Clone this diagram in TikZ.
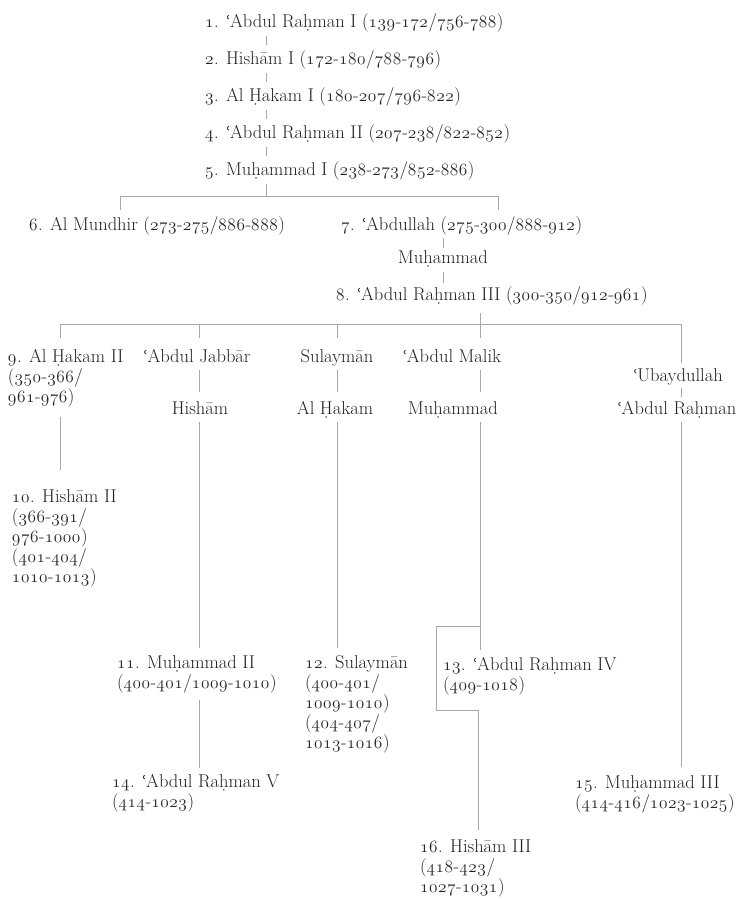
\documentclass[tikz,border=0pt]{standalone}
\usepackage{fontspec}
\newfontfamily\dvs[Scale=0.85]{DejaVu Serif}
\newcommand\ayn{{\dvs ʿ}\kern-0.8pt}
\newcommand\sth{\rule[-4.5pt]{0pt}{17.5pt}}
\makeatletter
\def\osn#1{\osn@loop#1\@nil}
\def\osn@loop#1{\ifx#1\@nil\else\osn@char#1\expandafter\osn@loop\fi}
\def\osn@char#1{\ifnum`#1>47 \ifnum`#1<58 {\usefont{OML}{cmm}{m}{it}#1}\kern0.6pt\else #1\fi\else #1\fi}
\makeatother
\definecolor{txt}{HTML}{222222}
\definecolor{ln}{HTML}{A8A8A8}
\begin{document}
\begin{tikzpicture}[x=1pt,y=-1pt,
  lbl/.style={inner sep=0pt, outer sep=0pt, text=txt, font=\fontsize{18.5}{20}\selectfont, align=left, anchor=north west},
  clbl/.style={lbl, anchor=north, align=center},
  link/.style={draw=ln, line width=0.8pt}]
\useasboundingbox (0,0) rectangle (741,899);
% nodes
\node[lbl] (n1) at (205,14) {\sth\osn{1.} \ayn Abdul Raḥman I \osn{(139-172/756-788)}};
\node[lbl] (n2) at (205,51) {\sth\osn{2.} Hishām I \osn{(172-180/788-796)}};
\node[lbl] (n3) at (205,88) {\sth\osn{3.} Al Ḥakam I \osn{(180-207/796-822)}};
\node[lbl] (n4) at (205,125) {\sth\osn{4.} \ayn Abdul Raḥman II \osn{(207-238/822-852)}};
\node[lbl] (n5) at (205,162) {\sth\osn{5.} Muḥammad I \osn{(238-273/852-886)}};
\node[lbl] (n6) at (29,217) {\sth\osn{6.} Al Mundhir \osn{(273-275/886-888)}};
\node[lbl] (n7) at (341,217) {\sth\osn{7.} \ayn Abdullah \osn{(275-300/888-912)}};
\node[clbl] (m7) at (443,250) {\sth Muḥammad};
\node[lbl] (n8) at (336,287) {\sth\osn{8.} \ayn Abdul Raḥman III \osn{(300-350/912-961)}};
\node[lbl] (n9) at (8,349) {\sth\osn{9.} Al Ḥakam II\\\osn{(350-366/}\\\osn{961-976)}};
\node[clbl] (jab) at (197,349) {\sth\ayn Abdul Jabbār};
\node[clbl] (sul) at (337,349) {\sth Sulaymān};
\node[clbl] (mal) at (452,349) {\sth\ayn Abdul Malik};
\node[clbl] (uba) at (678,368) {\sth\ayn Ubaydullah};
\node[clbl] (his) at (200,401) {\sth Hishām};
\node[clbl] (hak) at (335,401) {\sth Al Ḥakam};
\node[clbl] (muh) at (453,401) {\sth Muḥammad};
\node[clbl] (abr) at (677,401) {\sth\ayn Abdul Raḥman};
\node[lbl] (n10) at (12,489) {\sth\osn{10.} Hishām II\\\osn{(366-391/}\\\osn{976-1000)}\\\osn{(401-404/}\\\osn{1010-1013)}};
\node[lbl] (n11) at (117,655) {\sth\osn{11.} Muḥammad II\\\osn{(400-401/1009-1010)}};
\node[lbl] (n12) at (305,655) {\sth\osn{12.} Sulaymān\\\osn{(400-401/}\\\osn{1009-1010)}\\\osn{(404-407/}\\\osn{1013-1016)}};
\node[lbl] (n13) at (443,657) {\sth\osn{13.} \ayn Abdul Raḥman IV\\\osn{(409-1018)}};
\node[lbl] (n14) at (112,774) {\sth\osn{14.} \ayn Abdul Raḥman V\\\osn{(414-1023)}};
\node[lbl] (n15) at (575,775) {\sth\osn{15.} Muḥammad III\\\osn{(414-416/1023-1025)}};
\node[lbl] (n16) at (420,839) {\sth\osn{16.} Hishām III\\\osn{(418-423/}\\\osn{1027-1031)}};
% coordinates
\coordinate (ct) at (266,0);
\coordinate (b1) at (266,196);
\coordinate (b1l) at (120,196);
\coordinate (b1r) at (498,196);
\coordinate (b2a) at (60,324);
\coordinate (b2b) at (199,324);
\coordinate (b2c) at (337,324);
\coordinate (b2d) at (480,324);
\coordinate (b2e) at (681,324);
\coordinate (s1) at (480,626);
\coordinate (s2) at (436,626);
\coordinate (s3) at (436,710);
\coordinate (s4) at (478,710);
% connectors
\foreach \a/\b in {n1/n2,n2/n3,n3/n4,n4/n5}
  \draw[link, shorten <=3.5pt, shorten >=6pt] (\a.south -| ct) -- (\b.north -| ct);
\draw[link, shorten <=3.5pt] (n5.south -| ct) -- (b1);
\draw[link, shorten <=7pt, shorten >=7pt] (n6.north -| b1l) -- (b1l) -- (b1r) -- (n7.north -| b1r);
\draw[link, shorten <=2.5pt, shorten >=2pt] (n7.south -| m7) -- (m7.north);
\draw[link, shorten <=4.5pt, shorten >=4pt] (m7.south) -- (n8.north -| m7);
\draw[link, shorten <=7.5pt] (n8.south -| b2d) -- (b2d);
\draw[link, shorten <=11pt, shorten >=5pt] (n9.north -| b2a) -- (b2a) -- (b2e) -- (uba.north -| b2e);
\draw[link, shorten >=11pt] (b2b) -- (jab.north -| b2b);
\draw[link, shorten >=11pt] (b2c) -- (sul.north -| b2c);
\draw[link, shorten >=11pt] (b2d) -- (mal.north -| b2d);
\draw[link, shorten <=3.5pt, shorten >=9pt] (jab.south -| b2b) -- (his.north -| b2b);
\draw[link, shorten <=3.5pt, shorten >=9pt] (sul.south -| b2c) -- (hak.north -| b2c);
\draw[link, shorten <=3.5pt, shorten >=9pt] (mal.south -| b2d) -- (muh.north -| b2d);
\draw[link, shorten <=2.5pt, shorten >=4pt] (uba.south -| b2e) -- (abr.north -| b2e);
\draw[link, shorten <=3pt, shorten >=7pt] (his.south -| b2b) -- (n11.north -| b2b);
\draw[link, shorten <=3pt, shorten >=7pt] (hak.south -| b2c) -- (n12.north -| b2c);
\draw[link, shorten <=3pt, shorten >=7pt] (muh.south -| b2d) -- (n13.north -| b2d);
\draw[link, shorten <=3pt, shorten >=8pt] (abr.south -| b2e) -- (n15.north -| b2e);
\draw[link, shorten <=10.5pt, shorten >=19pt] (n9.south -| b2a) -- (n10.north -| b2a);
\draw[link, shorten <=7.5pt, shorten >=6pt] (n11.south -| b2b) -- (n14.north -| b2b);
\draw[link, shorten >=9pt] (s1) -- (s2) -- (s3) -- (s4) -- (n16.north -| s4);
\end{tikzpicture}
\end{document}
